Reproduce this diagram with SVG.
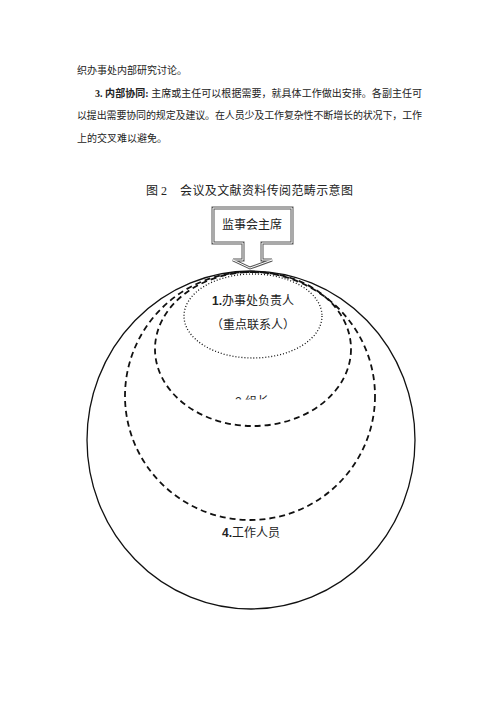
<svg xmlns="http://www.w3.org/2000/svg" width="500" height="707" viewBox="0 0 500 707">
<style>
.p{font-family:"Liberation Serif","Noto Sans CJK SC",serif;font-size:10px;fill:#222}
.t{font-family:"Liberation Serif","Noto Sans CJK SC",serif;font-size:12px;fill:#222}
.n{font-family:"Liberation Sans","Noto Sans CJK SC",sans-serif;font-size:12px;fill:#222;text-anchor:middle}
.dash{fill:none;stroke:#111;stroke-width:1.8;stroke-dasharray:6 4}
</style>
<defs>
<clipPath id="cut"><rect x="200" y="380" width="100" height="19.5"/></clipPath>
</defs>
<rect width="500" height="707" fill="#fff"/>
<g id="text">
<text class="p" x="77" y="74">织办事处内部研究讨论。</text>
<text class="p" x="95" y="97" textLength="327" lengthAdjust="spacing"><tspan font-weight="bold">3. 内部协同:</tspan> 主席或主任可以根据需要，就具体工作做出安排。各副主任可</text>
<text class="p" x="77" y="119" textLength="345" lengthAdjust="spacing">以提出需要协同的规定及建议。在人员少及工作复杂性不断增长的状况下，工作</text>
<text class="p" x="77" y="142">上的交叉难以避免。</text>
<text class="t" x="146" y="195">图 2</text>
<text class="t" x="180" y="195" textLength="173" lengthAdjust="spacing">会议及文献资料传阅范畴示意图</text>
</g>
<g id="outer">
<ellipse cx="251" cy="440" rx="164" ry="169" fill="none" stroke="#111" stroke-width="1.3"/>
<text class="n" x="251" y="537" font-weight="bold">4.<tspan font-weight="normal">工作人员</tspan></text>
</g>
<g id="ring3">
<ellipse class="dash" cx="250" cy="396" rx="125" ry="124"/>
</g>
<g id="ring2">
<ellipse class="dash" cx="253" cy="349" rx="98" ry="77"/>
<text class="n" x="252" y="406" clip-path="url(#cut)">2.组长</text>
</g>
<g id="ring1">
<ellipse cx="253" cy="316" rx="69" ry="42" fill="#fff" stroke="#111" stroke-width="1.3" stroke-dasharray="1 2"/>
<text class="n" x="253" y="305"><tspan font-weight="bold">1.</tspan>办事处负责人</text>
<text class="n" x="253" y="329">（重点联系人）</text>
</g>
<g id="chair">
<path d="M213,208 H292 V243 H262 V260 H272 L250,268 L233,260 H243 V243 H213 Z" fill="#fff" stroke="#555" stroke-width="3"/>
<path d="M213,208 H292 V243 H262 V260 H272 L250,268 L233,260 H243 V243 H213 Z" fill="none" stroke="#fff" stroke-width="1"/>
<text class="n" x="252" y="229">监事会主席</text>
</g>
</svg>
